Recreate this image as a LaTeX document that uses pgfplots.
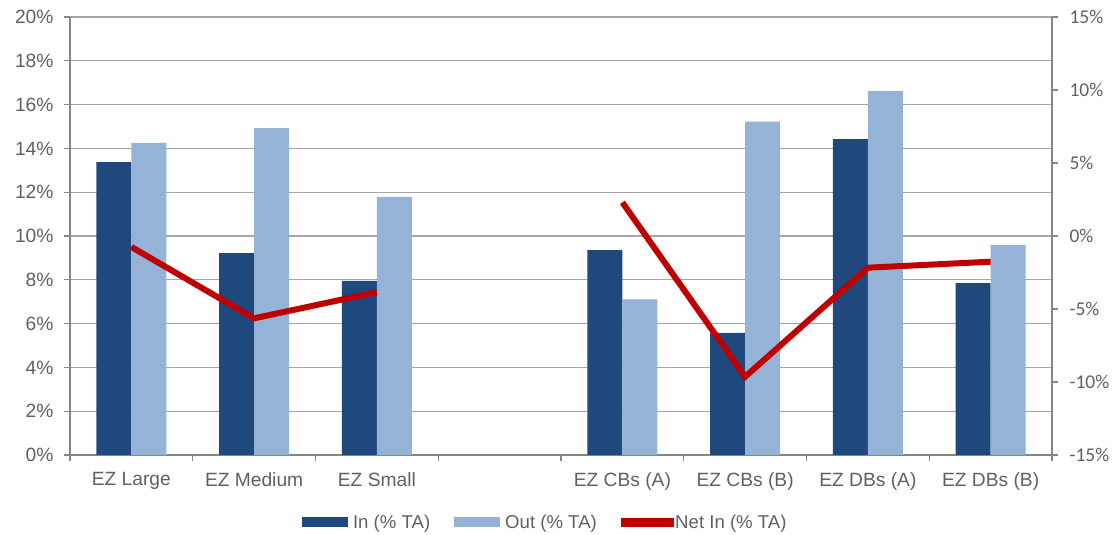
\documentclass[border=0pt]{standalone}
\usepackage{pgfplots}
\pgfplotsset{compat=1.18}
\usepackage{fontspec}
\setmainfont{Liberation Sans}
\newfontfamily\calib{Carlito}
\definecolor{inblue}{HTML}{1F497D}
\definecolor{outblue}{HTML}{95B3D7}
\definecolor{netred}{HTML}{C00000}
\definecolor{txt}{HTML}{606060}
\definecolor{axisgray}{HTML}{868686}
\definecolor{gridgray}{HTML}{A6A6A6}
\begin{document}
\begin{tikzpicture}[x=1pt,y=1pt]
\path[use as bounding box] (0,0) rectangle (1119,535);
\pgfplotsset{
  common/.style={
    at={(70pt,80pt)}, anchor=south west, scale only axis,
    width=982pt, height=438pt,
    xmin=-0.5, xmax=7.5,
    tick label style={font=\fontsize{19.2}{22}\selectfont, text=txt},
    /pgf/number format/assume math mode=true,
    axis line style={draw=axisgray, line width=1.5pt, -},
    tick style={draw=axisgray, line width=1.2pt},
    tick align=outside, major tick length=6pt,
  }
}
\begin{axis}[common,
  ymin=0, ymax=20, ytick={0,2,...,20},
  yticklabels={0\%,2\%,4\%,6\%,8\%,10\%,12\%,14\%,16\%,18\%,20\%},
  yticklabel style={xshift=-7pt},
  axis x line*=bottom, axis y line*=left,
  xtick={-0.5,0.5,...,7.5},
  x tick label as interval=true,
  xticklabels={EZ Large, EZ Medium, EZ Small, {}, EZ CBs (A), EZ CBs (B), EZ DBs (A), EZ DBs (B)},
  xticklabel style={yshift=-8pt},
  ymajorgrids, grid style={draw=gridgray, line width=1.2pt},
  legend columns=3,
  legend style={at={(0.484,-0.153)}, anchor=center, draw=none, fill=none,
    font=\fontsize{18.6}{21}\selectfont, text=txt,
    /tikz/every even column/.append style={column sep=22pt}},
]
\addplot[ybar, bar width=35pt, bar shift=-17.5pt, fill=inblue, draw=none,
  legend image code/.code={\fill[inblue] (0pt,-5pt) rectangle (46pt,5pt); \path (49pt,0pt);}]
  coordinates {(0,13.37) (1,9.22) (2,7.95) (4,9.35) (5,5.58) (6,14.42) (7,7.85)};
\addlegendentry{In (\% TA)}
\addplot[ybar, bar width=35pt, bar shift=17.5pt, fill=outblue, draw=none,
  legend image code/.code={\fill[outblue] (0pt,-5pt) rectangle (46pt,5pt); \path (49pt,0pt);}]
  coordinates {(0,14.25) (1,14.92) (2,11.79) (4,7.11) (5,15.22) (6,16.62) (7,9.60)};
\addlegendentry{Out (\% TA)}
\addlegendimage{legend image code/.code={\fill[netred] (0pt,-4pt) rectangle (52pt,4pt);}}
\addlegendentry{Net In (\% TA)}
\end{axis}
\begin{axis}[common,
  ymin=-15, ymax=15, ytick={-15,-10,...,15},
  yticklabels={-15\%,-10\%,-5\%,0\%,5\%,10\%,15\%},
  yticklabel style={font=\calib\fontsize{19.5}{22}\selectfont, xshift=8pt},
  axis y line*=right, axis x line=none,
  unbounded coords=jump,
]
\addplot[netred, line width=6pt] coordinates {(0,-0.75) (1,-5.64) (2,-3.84) (3,nan) (4,2.3) (5,-9.64) (6,-2.17) (7,-1.76)};
\end{axis}
\end{tikzpicture}
\end{document}
